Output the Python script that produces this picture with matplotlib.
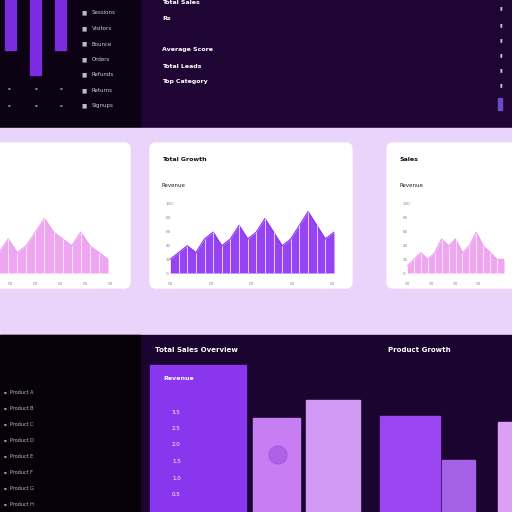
import matplotlib
matplotlib.use("Agg")
import matplotlib.pyplot as plt
from matplotlib.patches import FancyBboxPatch, Rectangle
import numpy as np

W = H = 512

# data
top_bar_heights = [50, 75, 50]
top_list_labels = ["Sessions", "Visitors", "Bounce", "Orders", "Refunds", "Returns", "Signups"]
top_mid_labels = ["Total Sales", "Rs", "Average Score", "Total Leads", "Top Category"]
card1_vals = [2, 3, 5, 3, 4, 6, 8, 6, 5, 4, 6, 4, 3, 2]
card2_vals = [2, 3, 4, 3, 5, 6, 4, 5, 7, 5, 6, 8, 6, 4, 5, 7, 9, 7, 5, 6]
card3_vals = [1, 2, 3, 2, 3, 5, 4, 5, 3, 4, 6, 4, 3, 2, 2]
card_ticks = ["100", "80", "60", "40", "20", "0"]
bottom_list_labels = ["Product A", "Product B", "Product C", "Product D", "Product E", "Product F", "Product G", "Product H"]
panel_ticks = ["3.5", "2.5", "2.0", "1.5", "1.0", "0.5"]
bottom_bar_tops = [418, 400, 416, 460, 422]

fig = plt.figure(figsize=(5.12, 5.12), dpi=100)
bg = fig.add_axes([0, 0, 1, 1])
bg.set_xlim(0, W)
bg.set_ylim(H, 0)
bg.axis("off")

def rect(x, y, w, h, c, **kw):
    bg.add_patch(Rectangle((x, y), w, h, color=c, **kw))

# bands
rect(0, 0, W, 128, "#1e0533")
rect(0, 0, 140, 128, "#0c0214")
rect(0, 128, W, 207, "#ead4fb")
rect(0, 335, W, 177, "#1b0530")
rect(0, 335, 140, 177, "#070109")

# top-left bars and list
for i, h in enumerate(top_bar_heights):
    rect(5 + i * 25, 0, 11, h, "#7b2be0")
for i, lab in enumerate(top_list_labels):
    y = 13 + i * 15.5
    bg.text(82, y, "■", color="#bbbbbb", fontsize=4, va="center")
    bg.text(92, y, lab, color="#cccccc", fontsize=4, va="center")
for x in [8, 35, 60]:
    for y in [88, 105]:
        bg.text(x, y, "▪", color="#888888", fontsize=3, va="center")

for lab, y in zip(top_mid_labels, [2, 18, 50, 66, 82]):
    bg.text(162, y, lab, color="#ffffff", fontsize=4.5, va="center", weight="bold")
for y in [8, 25, 40, 55, 70, 85]:
    bg.text(500, y, "▮", color="#cccccc", fontsize=3.5, va="center")
rect(498, 98, 4, 12, "#6a4cc8")

# cards
cards = [(-10, 143, 140, 145, card1_vals, "#ee9cf0", "", ""),
         (150, 143, 202, 145, card2_vals, "#8b2ff0", "Total Growth", "Revenue"),
         (387, 143, 135, 145, card3_vals, "#ee9cf0", "Sales", "Revenue")]
for x, y, w, h, vals, col, title, sub in cards:
    bg.add_patch(FancyBboxPatch((x, y), w, h, boxstyle="round,pad=0,rounding_size=6",
                                color="white", zorder=2))
    if title:
        bg.text(x + 12, y + 18, title, fontsize=4.5, weight="bold", color="#111111", zorder=3)
        bg.text(x + 12, y + 44, sub, fontsize=4, color="#222222", zorder=3)
    ax_l = (x + 20 if title else x) / W
    ax_w = (w - (38 if title else 22)) / W
    ax = fig.add_axes([ax_l, 1 - (y + 130) / H, ax_w, 75 / H])
    xs = np.arange(len(vals))
    ax.fill_between(xs, vals, color=col, alpha=0.9, lw=0)
    ax.plot(xs, vals, color=col, lw=0.8)
    ax.vlines(xs, 0, vals, color="white", lw=0.5)
    ax.set_xlim(0, len(vals) - 1)
    ax.set_ylim(0, 11)
    ax.axis("off")
    if title:
        for i, t in enumerate(card_ticks):
            bg.text(x + 16, y + 62 + i * 14, t, fontsize=3, color="#888888", zorder=3)
    n = 5 if x + w < W else 4
    for j in range(n):
        bg.text(x + 18 + j * (w - 40) / 4, y + 142, "00", fontsize=3, color="#888888", zorder=3)

# bottom left list
for i, lab in enumerate(bottom_list_labels):
    y = 392 + i * 16
    bg.text(4, y, "▪", color="#aaaaaa", fontsize=3, va="center")
    bg.text(10, y, lab, color="#bbbbbb", fontsize=3.5, va="center")

bg.text(155, 352, "Total Sales Overview", color="white", fontsize=5, weight="bold")
bg.text(388, 352, "Product Growth", color="white", fontsize=5, weight="bold")

# bottom panel and bars
rect(150, 365, 96, 147, "#8a36ee")
bg.text(163, 380, "Revenue", color="white", fontsize=4.5, weight="bold")
for i, t in enumerate(panel_ticks):
    bg.text(172, 412 + i * 16.5, t, color="white", fontsize=4, va="center")
bar_x = [(253, 47, "#c77ef2"), (306, 54, "#d29af5"), (380, 60, "#9a45f0"),
         (442, 33, "#a560e8"), (498, 20, "#d9a0f4")]
for (x, w, c), top in zip(bar_x, bottom_bar_tops):
    rect(x, top, w, H - top, c)
bg.add_patch(plt.Circle((278, 455), 9, color="#a050e0", alpha=0.6))

fig.savefig("out.png", dpi=100)
